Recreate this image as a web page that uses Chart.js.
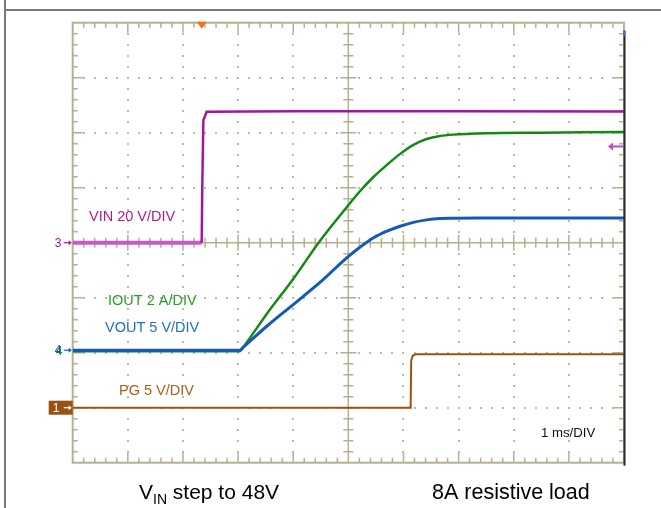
<!DOCTYPE html>
<html>
<head>
<meta charset="utf-8">
<script src="https://cdn.jsdelivr.net/npm/chart.js@4/dist/chart.umd.min.js"></script>
<style>
  html, body { margin: 0; padding: 0; background: #ffffff; }
  #wrap { width: 661px; height: 508px; position: relative; }
</style>
</head>
<body>
<div id="wrap"><canvas id="c" width="661" height="508"></canvas></div>
<script>
// ---- Scope settings (per channel) ----
const vinVoltsPerDiv = 20;   // VIN 20 V/DIV
const ioutAmpsPerDiv = 2;    // IOUT 2 A/DIV
const voutVoltsPerDiv = 5;   // VOUT 5 V/DIV
const pgVoltsPerDiv = 5;     // PG 5 V/DIV
const vinGroundDiv = 0;
const ioutGroundDiv = -1.975;
const voutGroundDiv = -1.955;
const pgGroundDiv = -3;
const timeDivs = 10;         // 1 ms/DIV, 10 divisions
const ampDivs = 8;

// ---- Series (time in ms from left edge) ----
const vinTimeMs  = [0, 2.34, 2.35, 2.37, 2.39, 2.43, 4.0, 7.0, 10];
const vinVolts   = [0, 0, 20, 44.5, 45.5, 47.6, 47.8, 47.8, 47.7];

const ioutTimeMs = [0, 3.03, 3.1, 3.52, 4.0, 4.49, 4.97, 5.21, 5.45, 5.70, 5.94, 6.18, 6.42, 6.66, 6.9, 7.5, 8.5, 10];
const ioutAmps   = [0, 0, 0.17, 1.36, 2.63, 4.03, 5.24, 5.82, 6.33, 6.78, 7.18, 7.51, 7.72, 7.83, 7.88, 7.93, 7.95, 7.98];

const voutTimeMs = [0, 3.03, 3.1, 3.52, 4.0, 4.49, 4.97, 5.21, 5.45, 5.70, 5.94, 6.18, 6.42, 6.66, 6.9, 7.5, 8.5, 10];
const voutVolts  = [0, 0, 0.3, 2.18, 4.15, 6.18, 8.4, 9.36, 10.2, 10.82, 11.27, 11.62, 11.85, 11.97, 12.0, 12.02, 12.03, 12.03];

const pgTimeMs   = [0, 6.13, 6.14, 6.17, 6.22, 10];
const pgVolts    = [0, 0, 4.3, 4.75, 4.85, 4.85];

function toDiv(times, vals, perDiv, ground) {
  return times.map((t, i) => ({ x: t, y: vals[i] / perDiv + ground }));
}

const GRID = '#b5b08f';

const scopePlugin = {
  id: 'scope',
  beforeDatasetsDraw(chart) {
    const ctx = chart.ctx;
    const ca = chart.chartArea;
    const L = ca.left, R = ca.right, T = ca.top, B = ca.bottom;
    const dx = (R - L) / timeDivs, dy = (B - T) / ampDivs;
    const cx = L + dx * timeDivs / 2, cy = T + dy * ampDivs / 2;
    ctx.save();
    // page frame
    ctx.fillStyle = '#7a7a7a';
    ctx.fillRect(4, 0, 2, 508);
    ctx.fillRect(4, 9, 657, 2);
    // dotted major lines
    ctx.fillStyle = '#bdb9a2';
    for (let i = 1; i < timeDivs; i++) {
      if (i === timeDivs / 2) continue;
      const x = L + i * dx;
      for (let j = 1; j < ampDivs * 5; j++) {
        ctx.fillRect(Math.round(x) - 1, Math.round(T + j * dy / 5) - 1, 2, 2);
      }
    }
    for (let k = 1; k < ampDivs; k++) {
      if (k === ampDivs / 2) continue;
      const y = T + k * dy;
      for (let j = 1; j < timeDivs * 5; j++) {
        ctx.fillRect(Math.round(L + j * dx / 5) - 1, Math.round(y) - 1, 2, 2);
      }
    }
    ctx.strokeStyle = GRID;
    ctx.lineWidth = 1.5;
    ctx.beginPath();
    // center cross
    ctx.moveTo(L, cy); ctx.lineTo(R, cy);
    ctx.moveTo(cx, T); ctx.lineTo(cx, B);
    // ticks on center lines
    for (let j = 1; j < timeDivs * 5; j++) {
      const x = L + j * dx / 5;
      const h = (j % 5 === 0) ? 8 : 5;
      ctx.moveTo(x, cy - h); ctx.lineTo(x, cy + h);
    }
    for (let j = 1; j < ampDivs * 5; j++) {
      const y = T + j * dy / 5;
      const h = (j % 5 === 0) ? 8 : 5;
      ctx.moveTo(cx - h, y); ctx.lineTo(cx + h, y);
    }
    // border ticks
    for (let j = 1; j < timeDivs * 5; j++) {
      const x = L + j * dx / 5;
      const h = (j % 5 === 0) ? 10 : 5;
      ctx.moveTo(x, T); ctx.lineTo(x, T + h);
      ctx.moveTo(x, B); ctx.lineTo(x, B - h);
    }
    for (let j = 1; j < ampDivs * 5; j++) {
      const y = T + j * dy / 5;
      const h = (j % 5 === 0) ? 10 : 5;
      ctx.moveTo(L, y); ctx.lineTo(L + h, y);
      ctx.moveTo(R, y); ctx.lineTo(R - h, y);
    }
    ctx.stroke();
    ctx.lineWidth = 2;
    ctx.strokeRect(L, T, R - L, B - T);
    ctx.restore();
  },
  afterDatasetsDraw(chart) {
    const ctx = chart.ctx;
    const ca = chart.chartArea;
    const L = ca.left, R = ca.right, T = ca.top, B = ca.bottom;
    const ys = chart.scales.y, xs = chart.scales.x;
    ctx.save();
    // right dark edge
    ctx.fillStyle = '#2a2a2a';
    ctx.fillRect(R - 0.5, T + 8, 2, B - T - 5);
    ctx.fillStyle = '#3a78c8';
    ctx.fillRect(R - 0.5, T + 8, 2, 5);
    // trigger marker (top)
    const tx = xs.getPixelForValue(vinTimeMs[1]);
    ctx.fillStyle = '#ff6a1a';
    ctx.beginPath();
    ctx.moveTo(tx - 5, T - 1); ctx.lineTo(tx + 5, T - 1); ctx.lineTo(tx, T + 6); ctx.closePath();
    ctx.fill();
    // trigger level arrow (right)
    const trigY = ys.getPixelForValue(35 / vinVoltsPerDiv + vinGroundDiv);
    ctx.strokeStyle = '#c24ac2'; ctx.fillStyle = '#c24ac2'; ctx.lineWidth = 2;
    ctx.beginPath(); ctx.moveTo(R - 12, trigY); ctx.lineTo(R - 1, trigY); ctx.stroke();
    ctx.beginPath(); ctx.moveTo(R - 16, trigY); ctx.lineTo(R - 11, trigY - 4); ctx.lineTo(R - 11, trigY + 4); ctx.closePath(); ctx.fill();

    // left channel markers
    function arrow(y, color) {
      ctx.strokeStyle = color; ctx.fillStyle = color; ctx.lineWidth = 1.2;
      ctx.beginPath(); ctx.moveTo(L - 9, y); ctx.lineTo(L - 2, y); ctx.stroke();
      ctx.beginPath(); ctx.moveTo(L - 1, y); ctx.lineTo(L - 4, y - 2.5); ctx.lineTo(L - 4, y + 2.5); ctx.closePath(); ctx.fill();
    }
    ctx.font = '12px "Liberation Sans", Arial, sans-serif';
    ctx.textBaseline = 'middle';
    const y3 = ys.getPixelForValue(vinGroundDiv);
    ctx.fillStyle = '#a4149f'; ctx.fillText('3', L - 18, y3 + 0.5); arrow(y3, '#a4149f');
    const y4 = ys.getPixelForValue(voutGroundDiv);
    ctx.fillStyle = '#1f8a1f'; ctx.fillText('4', L - 17, y4 + 1);
    ctx.fillStyle = '#1459b8'; ctx.fillText('4', L - 18, y4 + 0.5); arrow(y4, '#1459b8');
    const y1 = ys.getPixelForValue(pgGroundDiv);
    ctx.fillStyle = '#9a5212'; ctx.fillRect(L - 24, y1 - 7, 24, 14);
    ctx.fillStyle = '#ffffff'; ctx.font = '12px "Liberation Sans", Arial, sans-serif';
    ctx.fillText('1', L - 20, y1 + 0.5); arrow(y1, '#ffffff');

    // channel labels
    ctx.textBaseline = 'alphabetic';
    ctx.font = '14.5px "Liberation Sans", Arial, sans-serif';
    ctx.fillStyle = '#b01e85'; ctx.fillText('VIN 20 V/DIV', 89, 221);
    ctx.fillStyle = '#2a9e2a'; ctx.fillText('IOUT 2 A/DIV', 108, 305);
    ctx.fillStyle = '#1f6fc4'; ctx.fillText('VOUT 5 V/DIV', 105, 332);
    ctx.fillStyle = '#b0601a'; ctx.fillText('PG 5 V/DIV', 119, 395);
    ctx.fillStyle = '#111111'; ctx.font = '13.2px "Liberation Sans", Arial, sans-serif';
    ctx.fillText('1 ms/DIV', 541, 437);

    // captions
    ctx.fillStyle = '#000000';
    ctx.font = '21px "Liberation Sans", Arial, sans-serif';
    let x = 139;
    ctx.fillText('V', x, 499); x += ctx.measureText('V').width;
    ctx.font = '14px "Liberation Sans", Arial, sans-serif';
    ctx.fillText('IN', x, 504); x += ctx.measureText('IN').width;
    ctx.font = '21px "Liberation Sans", Arial, sans-serif';
    ctx.fillText(' step to 48V', x, 499);
    ctx.font = '21.5px "Liberation Sans", Arial, sans-serif';
    ctx.fillText('8A resistive load', 432, 499);
    ctx.restore();
  }
};

const ds = (label, data, color, width, order, extra) => Object.assign({
  label, data, borderColor: color, borderWidth: width, pointRadius: 0,
  fill: false, tension: 0, order
}, extra || {});

new Chart(document.getElementById('c'), {
  type: 'line',
  data: {
    datasets: [
      ds('VIN', toDiv(vinTimeMs, vinVolts, vinVoltsPerDiv, vinGroundDiv), '#a4149f', 2.5, 0, {
        segment: {
          borderColor: c => (c.p1.parsed.x <= vinTimeMs[1] + 1e-6 ? '#c85ac8' : undefined),
          borderWidth: c => (c.p1.parsed.x <= vinTimeMs[1] + 1e-6 ? 4 : undefined)
        }
      }),
      ds('IOUT', toDiv(ioutTimeMs, ioutAmps, ioutAmpsPerDiv, ioutGroundDiv), '#138a13', 2.5, 3, { cubicInterpolationMode: 'monotone' }),
      ds('VOUT', toDiv(voutTimeMs, voutVolts, voutVoltsPerDiv, voutGroundDiv), '#1459b8', 3, 2, { cubicInterpolationMode: 'monotone' }),
      ds('PG', toDiv(pgTimeMs, pgVolts, pgVoltsPerDiv, pgGroundDiv), '#9a5212', 2, 1)
    ]
  },
  options: {
    responsive: false,
    animation: false,
    events: [],
    layout: { padding: { left: 72.7, right: 37, top: 22.7, bottom: 45.3 } },
    plugins: { legend: { display: false }, tooltip: { enabled: false }, title: { display: false } },
    scales: {
      x: { type: 'linear', min: 0, max: timeDivs, display: false },
      y: { type: 'linear', min: -ampDivs / 2, max: ampDivs / 2, display: false }
    }
  },
  plugins: [scopePlugin]
});
</script>
</body>
</html>
